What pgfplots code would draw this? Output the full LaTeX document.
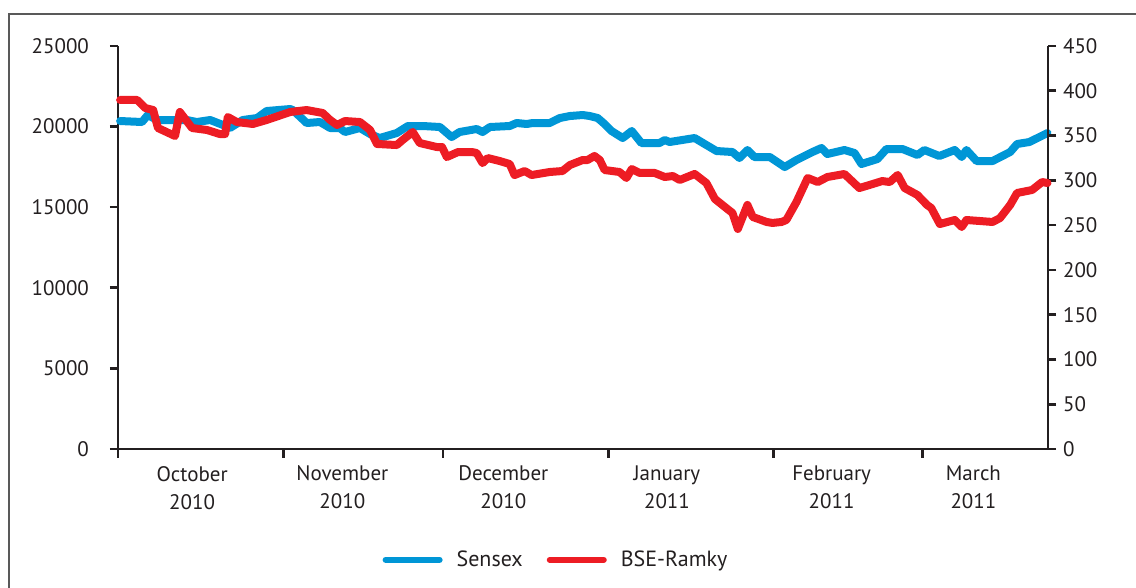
\documentclass[border=0pt]{standalone}
\usepackage{fontspec}
\setmainfont{PT Sans}
\usepackage{pgfplots}
\usepackage{pgfplotstable}
\pgfplotsset{compat=1.18}
\definecolor{sblue}{RGB}{0,150,214}
\definecolor{rred}{RGB}{237,28,36}
\definecolor{axc}{RGB}{35,31,32}

\pgfplotstableread{
day val
0.4 20346
4.5 20284
5.6 20718
7.3 20408
12.9 20408
14.8 20284
17.3 20408
19.7 20098
21.0 19912
23.4 20408
26.1 20532
27.9 20966
32.3 21090
32.8 21028
35.4 20222
37.9 20284
39.8 19912
41.6 19912
42.6 19664
45.4 19912
47.3 19539
49.1 19291
52.3 19601
54.4 20036
57.2 20036
60.4 19974
62.6 19353
64.1 19664
67.3 19850
68.4 19664
69.8 19974
73.5 20036
74.8 20222
76.7 20160
77.8 20222
81.0 20222
82.9 20532
84.8 20656
87.2 20718
88.5 20656
90.0 20532
91.3 20160
92.6 19726
94.7 19291
96.4 19726
98.2 18981
101.6 18981
102.6 19167
103.5 19043
108.2 19291
110.4 18857
112.3 18485
115.3 18423
116.6 18051
118.1 18547
119.4 18113
122.3 18113
125.1 17492
127.3 17927
130.3 18423
132.0 18671
133.1 18299
136.3 18547
138.2 18361
139.5 17679
142.5 17989
144.2 18609
147.2 18609
150.0 18237
151.3 18547
154.1 18175
157.0 18547
158.3 18113
159.2 18547
161.1 17865
164.1 17865
167.4 18423
168.7 18919
171.0 19043
174.4 19601
}\sensex

\pgfplotstableread{
day val
0.4 389.7
3.6 389.7
5.1 380.8
6.6 378.5
7.5 358.4
10.7 349.5
11.6 376.3
13.9 358.4
16.7 356.2
19.1 351.7
20.1 351.7
20.6 370.7
22.3 365.1
25.3 362.9
27.9 367.4
32.3 376.3
35.4 378.5
38.4 375.2
39.8 367.4
41.1 361.8
42.6 366.2
45.4 365.1
47.3 356.2
48.6 340.6
52.3 339.4
53.4 345.0
55.3 354.0
56.6 341.7
59.8 337.2
60.8 337.2
61.7 326.0
63.8 331.6
66.4 331.6
67.3 330.5
68.4 319.3
69.4 324.9
71.6 321.6
73.5 318.2
74.4 305.9
76.3 310.4
77.6 305.9
81.0 309.3
83.4 310.4
84.8 317.1
87.2 322.7
88.1 322.7
89.4 327.2
90.4 322.7
91.3 311.5
94.1 309.3
95.4 302.6
96.4 312.6
97.9 308.2
100.7 308.2
102.6 303.7
104.1 304.8
105.4 300.4
108.2 307.1
110.4 297.0
112.0 279.2
113.4 272.5
115.3 263.5
116.3 245.7
118.1 272.5
119.1 259.1
121.7 253.5
122.8 252.4
124.5 253.5
125.4 255.7
127.3 275.8
129.4 302.6
131.3 298.1
133.1 303.7
136.3 307.1
139.1 291.4
141.0 294.8
143.4 299.2
144.8 298.1
146.3 306.0
147.6 291.4
150.0 283.6
151.8 272.5
152.6 269.1
154.2 251.2
157.0 255.7
158.3 247.9
159.2 255.7
164.1 253.5
165.5 257.9
167.4 272.5
168.7 285.9
171.5 289.2
173.4 298.1
174.4 297.0
}\ramky

\begin{document}
\begin{tikzpicture}
\path[use as bounding box] (0,0) rectangle (568pt,294pt);
\draw[gray!70!black, line width=0.75pt] (4.5pt,0pt) -- (4.5pt,287pt) -- (568pt,287pt);
\begin{axis}[
  at={(59pt,69.5pt)}, anchor=south west,
  scale only axis, width=465pt, height=201.5pt,
  xmin=0, xmax=174.5, ymin=0, ymax=25000,
  scaled y ticks=false,
  axis x line*=bottom, axis y line*=left,
  axis line style={axc, line width=1.3pt, -},
  every tick/.style={axc, line width=1.3pt},
  tick align=outside,
  major tick length=4pt, minor tick length=4.5pt,
  ytick={0,5000,10000,15000,20000,25000},
  yticklabel style={font=\fontsize{10.5}{12}\selectfont, text=axc, xshift=-7pt},
  xtick={13.9,42.1,72.3,103,133.9,160.5},
  xticklabels={{October\\2010},{November\\2010},{December\\2010},{January\\2011},{February\\2011},{March\\2011}},
  xticklabel style={align=center, font=\fontsize{10.5}{14}\selectfont, text=axc, yshift=-1pt},
  major x tick style={draw=none},
  minor xtick={0,31,61,92,123,151},
  /pgf/number format/assume math mode=true,
  /pgf/number format/1000 sep={},
  clip=false,
]
\addplot[sblue, line width=4pt, line join=round, line cap=round] table[x=day, y=val] {\sensex};
\end{axis}
\begin{axis}[
  at={(59pt,69.5pt)}, anchor=south west,
  scale only axis, width=465pt, height=201.5pt,
  xmin=0, xmax=174.5, ymin=0, ymax=450,
  axis x line=none, axis y line*=right,
  axis line style={axc, line width=1.3pt, -},
  every tick/.style={axc, line width=1.3pt},
  tick align=outside,
  major tick length=4pt,
  ytick={0,50,...,450},
  yticklabel style={font=\fontsize{10.5}{12}\selectfont, text=axc},
  /pgf/number format/assume math mode=true,
  /pgf/number format/1000 sep={},
  clip=false,
  legend style={at={(0.472,-0.275)}, anchor=center, draw=none, fill=none,
    font=\fontsize{11}{13}\selectfont, text=axc,
    /tikz/every odd column/.append style={column sep=5pt},
    /tikz/every even column/.append style={column sep=10pt}},
  legend columns=2,
  legend image code/.code={\draw[line width=3pt, line cap=round] (0pt,0pt) -- (27pt,0pt);},
]
\addlegendimage{sblue}
\addlegendentry{Sensex}
\addplot[rred, line width=4pt, line join=round, line cap=round] table[x=day, y=val] {\ramky};
\addlegendentry{BSE-Ramky}
\end{axis}
\end{tikzpicture}
\end{document}
